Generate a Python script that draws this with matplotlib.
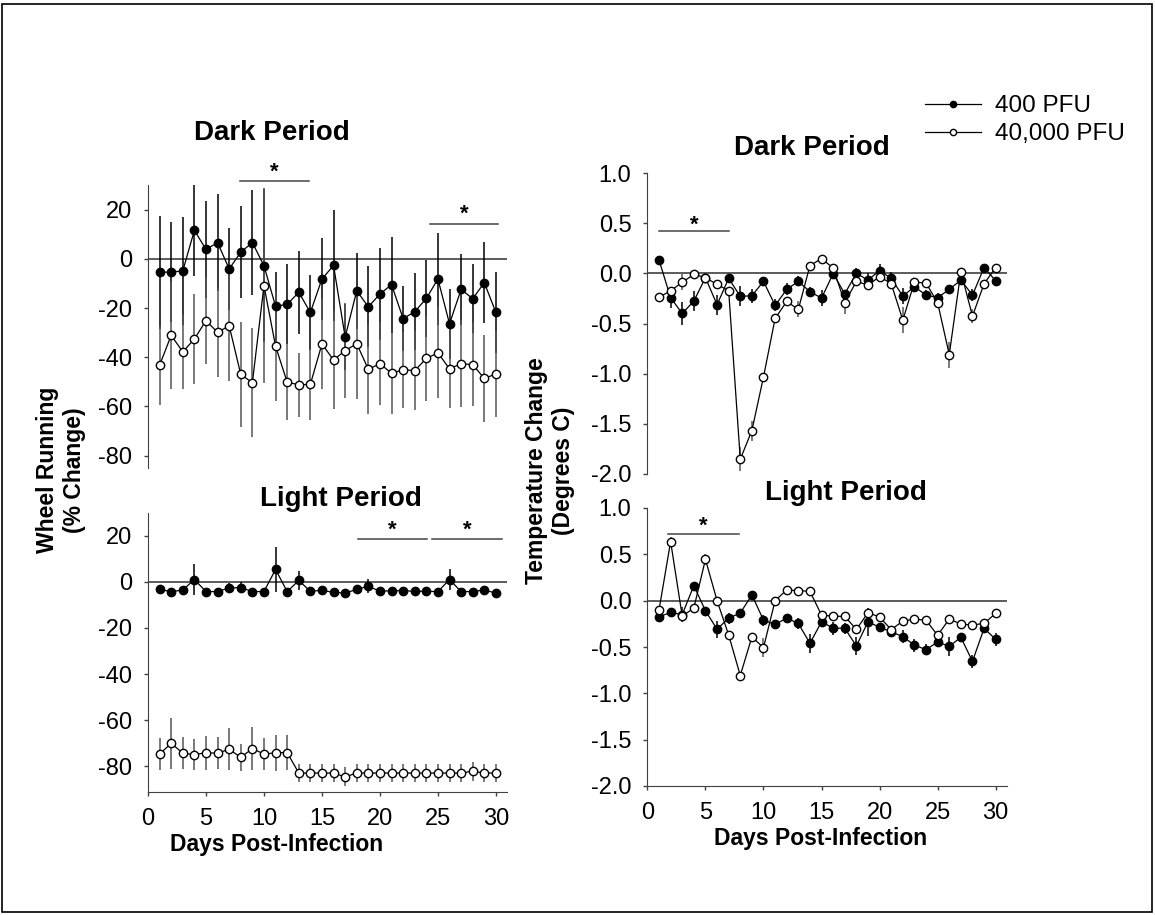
import numpy as np
import matplotlib
matplotlib.use("Agg")
import matplotlib.pyplot as plt
from matplotlib.patches import Rectangle
from matplotlib.ticker import FormatStrFormatter

plt.rcParams["font.family"] = ["Liberation Sans", "DejaVu Sans"]
plt.rcParams["axes.unicode_minus"] = False

days = np.arange(1, 31)

# wheel running, dark period (% change)
wheel_dark_400 = [-5.4, -5.4, -4.9, 11.6, 3.8, 6.6, -4.1, 2.7, 6.6, -2.8,
                  -19.3, -18.5, -13.6, -21.8, -8.2, -2.7, -31.8, -13.0, -19.5, -14.3,
                  -10.5, -24.3, -21.5, -16.1, -8.2, -26.4, -12.4, -16.2, -9.7, -21.8]
wheel_dark_400_err = [23, 20.4, 22, 18.6, 19.7, 19.6, 16.8, 18.8, 21.4, 31,
                      14, 16.2, 16.8, 15.4, 16.8, 22.4, 13.4, 15.4, 16.5, 18.5,
                      19.5, 13.2, 15.7, 15.8, 18.5, 14.3, 14.3, 14, 16.4, 16.4]
wheel_dark_40k = [-43.2, -31.1, -37.8, -32.6, -25.1, -29.9, -27.2, -47.0, -50.3, -10.9,
                  -35.5, -50.1, -51.2, -51.0, -34.6, -41.1, -37.3, -34.5, -44.9, -42.6,
                  -46.5, -45.1, -45.4, -40.5, -38.2, -44.7, -42.6, -43.0, -48.6, -46.8]
wheel_dark_40k_err = [16, 21.8, 15, 18.4, 17.8, 18, 22.4, 21.5, 22.2, 39.6,
                      22.4, 15.3, 13, 14.3, 18.2, 19.9, 19.3, 22.6, 18, 17,
                      16.4, 15.5, 16, 17.4, 18.5, 16, 17.8, 16.9, 17.8, 17.6]

# wheel running, light period (% change)
wheel_light_400 = [-3.2, -4.3, -3.5, 1.0, -4.2, -4.2, -2.6, -2.5, -4.2, -4.2,
                   5.4, -4.2, 0.6, -4.1, -3.6, -4.6, -4.8, -3.3, -1.9, -4.1,
                   -3.8, -3.8, -4.1, -4.1, -4.2, 1.0, -4.2, -4.2, -3.5, -4.9]
wheel_light_400_err = [1.5, 1.2, 1.2, 6.7, 1.2, 1.2, 2.3, 2.5, 1.2, 1.2,
                       9.7, 1.2, 4.1, 1.2, 1.2, 1.2, 1.2, 1.5, 3.0, 1.2,
                       1.2, 1.2, 1.2, 1.2, 1.2, 4.4, 1.2, 1.2, 1.8, 1.2]
wheel_light_40k = [-74.7, -70.0, -74.3, -74.9, -74.1, -74.3, -72.6, -76.1, -72.3, -74.7,
                   -74.1, -74.0, -82.9, -82.9, -82.9, -82.9, -84.6, -82.9, -82.9, -82.9,
                   -82.9, -82.9, -82.9, -82.9, -82.9, -82.9, -82.9, -82.1, -82.9, -82.9]
wheel_light_40k_err = [7.1, 11.1, 7.0, 6.9, 7.3, 7.0, 9.1, 5.9, 9.4, 7.1,
                       7.9, 7.6, 4.0, 4.0, 4.0, 4.0, 4.1, 4.0, 4.0, 4.0,
                       4.0, 4.0, 4.0, 4.0, 4.0, 4.0, 4.0, 4.1, 4.0, 4.0]

# temperature change, dark period (degrees C)
temp_dark_400 = [0.133, -0.243, -0.4, -0.277, -0.043, -0.313, -0.05, -0.23, -0.223, -0.08,
                 -0.32, -0.16, -0.08, -0.183, -0.247, -0.003, -0.203, 0.0, -0.067, 0.027,
                 -0.05, -0.227, -0.133, -0.217, -0.243, -0.16, -0.067, -0.217, 0.057, -0.073]
temp_dark_400_err = [0.03, 0.1, 0.11, 0.1, 0.04, 0.1, 0.04, 0.1, 0.07, 0.04,
                     0.06, 0.06, 0.05, 0.05, 0.08, 0.04, 0.04, 0.05, 0.07, 0.07,
                     0.06, 0.08, 0.05, 0.05, 0.05, 0.04, 0.04, 0.06, 0.04, 0.04]
temp_dark_40k = [-0.24, -0.173, -0.09, -0.01, -0.043, -0.11, -0.173, -1.853, -1.567, -1.033,
                 -0.45, -0.28, -0.36, 0.077, 0.147, 0.053, -0.293, -0.08, -0.117, -0.033,
                 -0.103, -0.467, -0.087, -0.097, -0.293, -0.81, 0.017, -0.427, -0.103, 0.057]
temp_dark_40k_err = [0.03, 0.04, 0.08, 0.03, 0.03, 0.04, 0.04, 0.12, 0.1, 0.04,
                     0.04, 0.04, 0.08, 0.03, 0.03, 0.03, 0.11, 0.04, 0.04, 0.04,
                     0.04, 0.13, 0.04, 0.04, 0.04, 0.13, 0.03, 0.07, 0.04, 0.03]

# temperature change, light period (degrees C)
temp_light_400 = [-0.174, -0.127, -0.15, 0.163, -0.109, -0.308, -0.188, -0.134, 0.062, -0.21,
                  -0.257, -0.188, -0.246, -0.46, -0.228, -0.297, -0.297, -0.49, -0.227, -0.288,
                  -0.335, -0.389, -0.479, -0.529, -0.446, -0.493, -0.396, -0.655, -0.299, -0.418]
temp_light_400_err = [0.04, 0.03, 0.08, 0.03, 0.03, 0.09, 0.06, 0.04, 0.03, 0.06,
                      0.04, 0.03, 0.06, 0.1, 0.05, 0.07, 0.06, 0.1, 0.15, 0.04,
                      0.05, 0.07, 0.07, 0.06, 0.05, 0.1, 0.04, 0.07, 0.04, 0.07]
temp_light_40k = [-0.101, 0.638, -0.167, -0.08, 0.446, 0.0, -0.37, -0.808, -0.391, -0.507,
                  0.0, 0.116, 0.109, 0.101, -0.156, -0.167, -0.17, -0.31, -0.13, -0.176,
                  -0.313, -0.22, -0.2, -0.21, -0.374, -0.198, -0.252, -0.263, -0.245, -0.137]
temp_light_40k_err = [0.03, 0.05, 0.06, 0.03, 0.06, 0.03, 0.03, 0.03, 0.03, 0.1,
                      0.03, 0.03, 0.03, 0.03, 0.03, 0.03, 0.03, 0.03, 0.03, 0.03,
                      0.03, 0.03, 0.03, 0.03, 0.03, 0.03, 0.03, 0.03, 0.03, 0.03]

labels = ["400 PFU", "40,000 PFU"]

W, H = 1155, 915
fig = plt.figure(figsize=(W / 100, H / 100), dpi=100)
fig.add_artist(Rectangle((0.002, 0.003), 0.995, 0.993, transform=fig.transFigure,
                         fill=False, edgecolor="black", lw=1.2))

AX = "#404040"
FS = 17


def px_axes(x0, y0, x1, y1):
    # pixel box (top-left origin) -> figure axes
    return fig.add_axes([x0 / W, 1 - y1 / H, (x1 - x0) / W, (y1 - y0) / H])


def style(ax, ylim, yticks, show_x, fmt=None):
    ax.set_xlim(0, 31)
    ax.set_ylim(*ylim)
    ax.set_yticks(yticks)
    if fmt:
        ax.yaxis.set_major_formatter(FormatStrFormatter(fmt))
    for s in ["top", "right"]:
        ax.spines[s].set_visible(False)
    ax.spines["left"].set_color(AX)
    ax.spines["bottom"].set_color(AX)
    ax.tick_params(axis="y", labelsize=FS, length=3, width=1, color=AX, pad=8.5)
    ax.tick_params(axis="x", labelsize=FS, length=3, width=1, color=AX, pad=8.5)
    if show_x:
        ax.set_xticks([0, 5, 10, 15, 20, 25, 30])
    else:
        ax.spines["bottom"].set_visible(False)
        ax.set_xticks([])
    ax.axhline(0, color=AX, lw=1.2, zorder=1)


def draw(ax, y1, e1, y2, e2):
    ax.errorbar(days, y1, yerr=e1, fmt="none", ecolor="black", elinewidth=1.1, capsize=0, zorder=2)
    ax.errorbar(days, y2, yerr=e2, fmt="none", ecolor="#555555", elinewidth=1.1, capsize=0, zorder=2)
    l1, = ax.plot(days, y1, "-o", color="black", lw=0.9, ms=6, mfc="black", mec="black",
                  mew=1, zorder=3)
    l2, = ax.plot(days, y2, "-o", color="black", lw=0.9, ms=6, mfc="white", mec="black",
                  mew=1, zorder=4)
    return l1, l2


def sig(ax, x0, x1, y, ystar):
    ax.plot([x0, x1], [y, y], color="#444444", lw=1.1, clip_on=False)
    ax.text((x0 + x1) / 2, ystar, "*", ha="center", va="center", fontsize=16,
            fontweight="bold", clip_on=False)


wheel_ticks = [-80, -60, -40, -20, 0, 20]
temp_ticks = [-2.0, -1.5, -1.0, -0.5, 0.0, 0.5, 1.0]

ax1 = px_axes(148, 185, 507.5, 468)
style(ax1, (-85, 30), wheel_ticks, False)
h1, h2 = draw(ax1, wheel_dark_400, wheel_dark_400_err, wheel_dark_40k, wheel_dark_40k_err)
sig(ax1, 7.9, 13.9, 31.8, 35.2)
sig(ax1, 24.3, 30.2, 14.0, 18.0)

ax2 = px_axes(148, 512.7, 507.5, 791.7)
style(ax2, (-91, 30), wheel_ticks, True)
draw(ax2, wheel_light_400, wheel_light_400_err, wheel_light_40k, wheel_light_40k_err)
sig(ax2, 18.1, 24.1, 18.4, 22.6)
sig(ax2, 24.5, 30.5, 18.4, 22.6)

ax3 = px_axes(647.4, 173, 1007.3, 474)
style(ax3, (-2.0, 1.0), temp_ticks, False, "%.1f")
draw(ax3, temp_dark_400, temp_dark_400_err, temp_dark_40k, temp_dark_40k_err)
sig(ax3, 1.0, 7.0, 0.418, 0.48)

ax4 = px_axes(647.4, 508, 1007.3, 786)
style(ax4, (-2.0, 1.0), temp_ticks, True, "%.1f")
draw(ax4, temp_light_400, temp_light_400_err, temp_light_40k, temp_light_40k_err)
sig(ax4, 1.8, 7.9, 0.716, 0.80)

# panel titles
tkw = dict(fontsize=20, fontweight="bold", ha="center", va="center")
fig.text(272 / W, 1 - 133 / H, "Dark Period", **tkw)
fig.text(341 / W, 1 - 499 / H, "Light Period", **tkw)
fig.text(812 / W, 1 - 148 / H, "Dark Period", **tkw)
fig.text(846 / W, 1 - 493 / H, "Light Period", **tkw)

# axis labels
lkw = dict(fontsize=16.5, fontweight="bold", ha="center", va="center")
fig.text(277 / W, 1 - 844 / H, "Days Post-Infection", **lkw)
fig.text(821 / W, 1 - 839 / H, "Days Post-Infection", **lkw)
fig.text(61 / W, 1 - 470 / H, "Wheel Running\n(% Change)", rotation=90,
         linespacing=1.2, **lkw)
fig.text(550 / W, 1 - 471 / H, "Temperature Change\n(Degrees C)", rotation=90,
         linespacing=1.2, **lkw)

leg = fig.legend([h1, h2], labels, loc="upper left", bbox_to_anchor=(925 / W, 1 - 95 / H),
                 frameon=False, fontsize=17.5, handlelength=2.3, handletextpad=0.6,
                 labelspacing=0.25, borderpad=0, borderaxespad=0, markerscale=0.75)

fig.savefig("out.png", dpi=100)
